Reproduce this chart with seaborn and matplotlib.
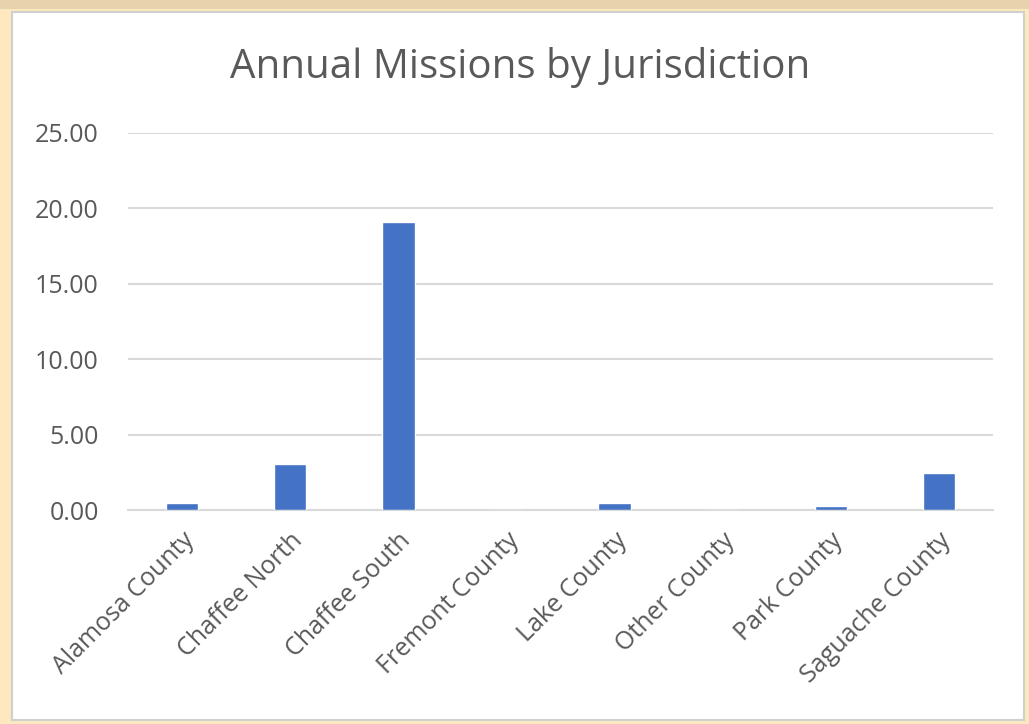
import matplotlib
matplotlib.use("Agg")
import matplotlib.pyplot as plt
from matplotlib.patches import Rectangle
import seaborn as sns
import pandas as pd

categories = ["Alamosa County", "Chaffee North", "Chaffee South", "Fremont County",
              "Lake County", "Other County", "Park County", "Saguache County"]
missions = [0.44, 3.05, 19.10, 0.0, 0.44, 0.0, 0.25, 2.47]
yticks = [0, 5, 10, 15, 20, 25]
title = "Annual Missions by Jurisdiction"

df = pd.DataFrame({"Jurisdiction": categories, "Missions": missions})

sns.set_theme(style="white")
plt.rcParams["font.family"] = ["Open Sans", "DejaVu Sans"]

W, H = 1029, 724
fig = plt.figure(figsize=(W / 100, H / 100), dpi=100)
fig.patch.set_facecolor("#fde9bd")

# white chart card with light grey border
fig.patches.append(Rectangle((12 / W, 4 / H), 1012 / W, 708 / H, transform=fig.transFigure,
                             facecolor="white", edgecolor="#d0d0d0", linewidth=1.5, zorder=-5))
# tan strip at top
fig.patches.append(Rectangle((0, 1 - 9 / H), 1, 9 / H, transform=fig.transFigure,
                             facecolor="#e6d3ae", edgecolor="none", zorder=-5))

ax = fig.add_axes([128 / W, 1 - 510 / H, 865 / W, (510 - 133) / H])
ax.set_facecolor("none")
ax.set_zorder(2)

sns.barplot(data=df, x="Jurisdiction", y="Missions", color="#4472c4", width=0.3,
            saturation=1, ax=ax, zorder=3)

ax.set_ylim(0, 25)
ax.set_yticks(yticks)
ax.set_yticklabels([f"{v:.2f}" for v in yticks], fontsize=18, color="#595959")
ax.set_xlim(-0.5, len(categories) - 0.5)
ax.set_xticks(range(len(categories)))
ax.set_xticklabels(categories, rotation=45, ha="right", rotation_mode="anchor",
                   fontsize=18, color="#595959")
ax.tick_params(axis="y", length=0, pad=21)
ax.tick_params(axis="x", length=0, pad=13)
ax.yaxis.grid(True, color="#d9d9d9", linewidth=1.5, zorder=0)
ax.set_axisbelow(True)
for s in ["top", "right", "left"]:
    ax.spines[s].set_visible(False)
ax.spines["bottom"].set_color("#d9d9d9")
ax.spines["bottom"].set_linewidth(1.5)
ax.set_xlabel("")
ax.set_ylabel("")

fig.text(520 / W, 1 - 67 / H, title, ha="center", va="center", fontsize=29, color="#595959")

fig.savefig("out.png", dpi=100, facecolor=fig.get_facecolor())
